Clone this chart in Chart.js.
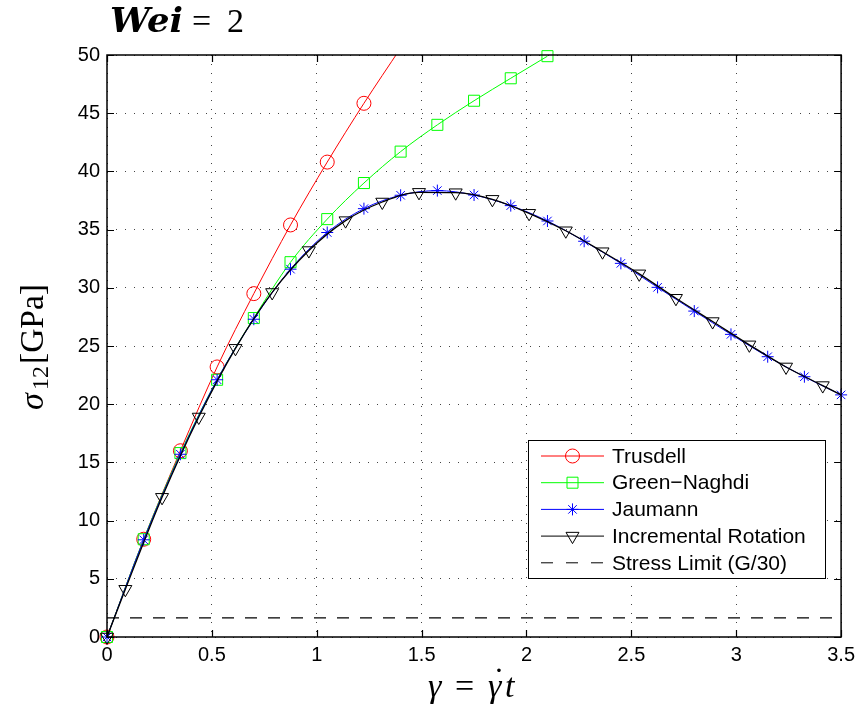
<!DOCTYPE html>
<html lang="en">
  <head>
    <meta charset="UTF-8" />
    <title>Wei = 2</title>
    <script src="https://cdn.jsdelivr.net/npm/chart.js"></script>
    <style>
      body {
        margin: 0;
        background: #fff;
      }
      #wrap {
        width: 861px;
        height: 716px;
      }
    </style>
  </head>
  <body>
    <div id="wrap"><canvas id="stressChart" width="861" height="716"></canvas></div>

    <script>
      // axis ticks
      const xTicks = [0, 0.5, 1, 1.5, 2, 2.5, 3, 3.5];
      const yTicks = [0, 5, 10, 15, 20, 25, 30, 35, 40, 45, 50];

      // Trusdell (last point is the curve leaving the top, no marker)
      const trusdellX = [0, 0.175, 0.35, 0.525, 0.7, 0.875, 1.05, 1.225, 1.4];
      const trusdellY = [0, 8.4, 16.0, 23.2, 29.5, 35.4, 40.8, 45.85, 50.6];

      // Green-Naghdi
      const greenX = [0, 0.175, 0.35, 0.525, 0.7, 0.875, 1.05, 1.225, 1.4, 1.575, 1.75, 1.925, 2.1];
      const greenY = [0, 8.4, 15.8, 22.1, 27.4, 32.2, 35.9, 39.0, 41.7, 44.0, 46.07, 48.0, 49.9];

      // Jaumann
      const jaumannX = [0, 0.175, 0.35, 0.525, 0.7, 0.875, 1.05, 1.225, 1.4, 1.575, 1.75,
        1.925, 2.1, 2.275, 2.45, 2.625, 2.8, 2.975, 3.15, 3.325, 3.5];
      const jaumannY = [0, 8.35, 15.7, 22.1, 27.3, 31.6, 34.75, 36.8, 37.95, 38.35, 37.97,
        37.06, 35.74, 34.0, 32.1, 30.04, 28.0, 26.0, 24.08, 22.36, 20.8];

      // Incremental Rotation (last point is the line end at 3.5, no marker)
      const incrX = [0, 0.0875, 0.2625, 0.4375, 0.6125, 0.7875, 0.9625, 1.1375, 1.3125, 1.4875, 1.6625,
        1.8375, 2.0125, 2.1875, 2.3625, 2.5375, 2.7125, 2.8875, 3.0625, 3.2375, 3.4125, 3.5];
      const incrY = [0, 4.1, 12.0, 18.9, 24.8, 29.6, 33.2, 35.77, 37.37, 38.2, 38.17,
        37.6, 36.4, 34.9, 33.1, 31.2, 29.1, 27.1, 25.1, 23.2, 21.6, 20.8];

      // Stress limit (G/30)
      const limitX = [0, 3.5];
      const limitY = [1.65, 1.65];

      const pts = (xs, ys) => xs.map((x, i) => ({ x: x, y: ys[i] }));
      const noLastMarker = (r) => (ctx) =>
        ctx.dataIndex === ctx.dataset.data.length - 1 ? 0 : r;

      const legendItems = [
        { label: 'Trusdell', color: '#ff0000', marker: 'circle' },
        { label: 'Green\u2212Naghdi', color: '#00ff00', marker: 'rect' },
        { label: 'Jaumann', color: '#0000ff', marker: 'star' },
        { label: 'Incremental Rotation', color: '#000000', marker: 'triangle' },
        { label: 'Stress Limit (G/30)', color: '#000000', marker: 'dash' },
      ];

      function drawMarker(ctx, kind, x, y, color) {
        ctx.save();
        ctx.strokeStyle = color;
        ctx.lineWidth = 1;
        ctx.beginPath();
        if (kind === 'circle') {
          ctx.arc(x, y, 7, 0, Math.PI * 2);
        } else if (kind === 'rect') {
          ctx.rect(x - 5.5, y - 5.5, 11, 11);
        } else if (kind === 'star') {
          const r = 6;
          for (let a = 0; a < 4; a++) {
            const t = (a * Math.PI) / 4;
            ctx.moveTo(x - Math.cos(t) * r, y - Math.sin(t) * r);
            ctx.lineTo(x + Math.cos(t) * r, y + Math.sin(t) * r);
          }
        } else if (kind === 'triangle') {
          const r = 7.5;
          ctx.moveTo(x, y + r);
          ctx.lineTo(x - r * 0.866, y - r / 2);
          ctx.lineTo(x + r * 0.866, y - r / 2);
          ctx.closePath();
        }
        ctx.stroke();
        ctx.restore();
      }

      // draws text so that it fills a given width
      function fitText(ctx, text, x, y, width) {
        const w = ctx.measureText(text).width;
        ctx.save();
        ctx.translate(x, y);
        ctx.scale(width / w, 1);
        ctx.fillText(text, 0, 0);
        ctx.restore();
      }

      const decorPlugin = {
        id: 'decor',
        afterDraw(chart) {
          const ctx = chart.ctx;
          const a = chart.chartArea;
          const xs = chart.scales.x;
          const ys = chart.scales.y;

          // frame and inward ticks
          ctx.save();
          ctx.strokeStyle = '#000';
          ctx.lineWidth = 1.5;
          ctx.strokeRect(a.left, a.top, a.right - a.left, a.bottom - a.top);
          ctx.lineWidth = 1.2;
          ctx.beginPath();
          xTicks.forEach((v) => {
            const px = Math.round(xs.getPixelForValue(v)) + 0.5;
            ctx.moveTo(px, a.bottom);
            ctx.lineTo(px, a.bottom - 7);
            ctx.moveTo(px, a.top);
            ctx.lineTo(px, a.top + 7);
          });
          yTicks.forEach((v) => {
            const py = Math.round(ys.getPixelForValue(v)) + 0.5;
            ctx.moveTo(a.left, py);
            ctx.lineTo(a.left + 7, py);
            ctx.moveTo(a.right, py);
            ctx.lineTo(a.right - 7, py);
          });
          ctx.stroke();
          ctx.restore();

          // legend box
          const bx = 528, by = 440, bw = 297, bh = 138;
          ctx.save();
          ctx.fillStyle = '#fff';
          ctx.fillRect(bx, by, bw, bh);
          ctx.strokeStyle = '#000';
          ctx.lineWidth = 1;
          ctx.strokeRect(bx + 0.5, by + 0.5, bw, bh);
          ctx.font = '21px "Liberation Sans", Arial, sans-serif';
          ctx.textBaseline = 'middle';
          ctx.fillStyle = '#000';
          legendItems.forEach((it, i) => {
            const y = 456 + i * 26.7;
            ctx.save();
            ctx.strokeStyle = it.color;
            ctx.lineWidth = 1;
            if (it.marker === 'dash') ctx.setLineDash([12, 13]);
            ctx.beginPath();
            ctx.moveTo(541, y);
            ctx.lineTo(604, y);
            ctx.stroke();
            ctx.restore();
            if (it.marker !== 'dash') drawMarker(ctx, it.marker, 572.5, y, it.color);
            ctx.fillText(it.label, 612, y + 1);
          });
          ctx.restore();

          // title: Wei = 2
          ctx.save();
          ctx.fillStyle = '#000';
          ctx.textBaseline = 'alphabetic';
          ctx.font = 'bold italic 33px "DejaVu Serif", serif';
          fitText(ctx, 'Wei', 110, 32, 73);
          ctx.font = '34px "Liberation Serif", serif';
          ctx.fillText('=', 192, 32);
          ctx.fillText('2', 227, 32);
          ctx.restore();

          // y axis title: sigma_12 [GPa], written bottom to top
          ctx.save();
          ctx.translate(43, 410);
          ctx.rotate(-Math.PI / 2);
          ctx.fillStyle = '#000';
          ctx.textBaseline = 'alphabetic';
          ctx.font = 'italic 34px "Liberation Serif", serif';
          ctx.fillText('\u03c3', 0, 0);
          ctx.font = '23px "Liberation Serif", serif';
          fitText(ctx, '12', 20, 5, 24);
          ctx.font = '33px "Liberation Serif", serif';
          fitText(ctx, '[GPa]', 46, 0, 80);
          ctx.restore();

          // x axis title: gamma = gamma-dot t
          ctx.save();
          ctx.fillStyle = '#000';
          ctx.textBaseline = 'alphabetic';
          const base = 697;
          ctx.font = 'italic 34px "Liberation Serif", serif';
          ctx.fillText('\u03b3', 428, base);
          ctx.font = '34px "Liberation Serif", serif';
          ctx.fillText('=', 455, base);
          ctx.font = 'italic 34px "Liberation Serif", serif';
          ctx.fillText('\u03b3', 488, base);
          ctx.fillText('t', 505, base);
          ctx.font = '34px "Liberation Serif", serif';
          ctx.textAlign = 'center';
          ctx.fillText('\u02d9', 499, base - 6);
          ctx.restore();
        },
      };

      const tickFont = { family: '"Liberation Sans", Arial, sans-serif', size: 20 };

      new Chart(document.getElementById('stressChart'), {
        type: 'line',
        data: {
          datasets: [
            {
              label: 'Trusdell',
              data: pts(trusdellX, trusdellY),
              borderColor: '#ff0000',
              borderWidth: 1,
              cubicInterpolationMode: 'monotone',
              pointStyle: 'circle',
              pointRadius: noLastMarker(7),
              pointBorderColor: '#ff0000',
              pointBackgroundColor: 'rgba(0,0,0,0)',
              pointBorderWidth: 1,
              clip: { left: 12, bottom: 12, top: 0, right: 0 },
              order: 5,
            },
            {
              label: 'Green-Naghdi',
              data: pts(greenX, greenY),
              borderColor: '#00ff00',
              borderWidth: 1,
              cubicInterpolationMode: 'monotone',
              pointStyle: 'rect',
              pointRadius: 7.8,
              pointBorderColor: '#00ff00',
              pointBackgroundColor: 'rgba(0,0,0,0)',
              pointBorderWidth: 1,
              clip: false,
              order: 4,
            },
            {
              label: 'Jaumann',
              data: pts(jaumannX, jaumannY),
              borderColor: '#0000ff',
              borderWidth: 1,
              cubicInterpolationMode: 'monotone',
              pointStyle: 'star',
              pointRadius: 6,
              pointBorderColor: '#0000ff',
              pointBackgroundColor: 'rgba(0,0,0,0)',
              pointBorderWidth: 1,
              clip: false,
              order: 3,
            },
            {
              label: 'Incremental Rotation',
              data: pts(incrX, incrY),
              borderColor: '#000000',
              borderWidth: 1.3,
              cubicInterpolationMode: 'monotone',
              pointStyle: 'triangle',
              pointRotation: 180,
              pointRadius: noLastMarker(7.5),
              pointBorderColor: '#000000',
              pointBackgroundColor: 'rgba(0,0,0,0)',
              pointBorderWidth: 1,
              clip: false,
              order: 2,
            },
            {
              label: 'Stress Limit (G/30)',
              data: pts(limitX, limitY),
              borderColor: '#000000',
              borderWidth: 1.2,
              borderDash: [12, 11],
              pointRadius: 0,
              order: 1,
            },
          ],
        },
        options: {
          responsive: false,
          animation: false,
          devicePixelRatio: 1,
          layout: { padding: { top: 55, right: 16, left: 0, bottom: 0 } },
          plugins: {
            legend: { display: false },
            tooltip: { enabled: false },
          },
          scales: {
            x: {
              type: 'linear',
              min: 0,
              max: 3.5,
              afterBuildTicks: (s) => {
                s.ticks = xTicks.map((v) => ({ value: v }));
              },
              afterFit: (s) => {
                s.height = 79;
              },
              ticks: {
                color: '#000',
                font: tickFont,
                padding: 6,
                maxRotation: 0,
                autoSkip: false,
                callback: (v) => String(v),
              },
              grid: { color: '#444', lineWidth: 1, drawTicks: false },
              border: { display: false, dash: [1, 8] },
            },
            y: {
              type: 'linear',
              min: 0,
              max: 50,
              afterBuildTicks: (s) => {
                s.ticks = yTicks.map((v) => ({ value: v }));
              },
              afterFit: (s) => {
                s.width = 107;
              },
              ticks: {
                color: '#000',
                font: tickFont,
                padding: 7,
                autoSkip: false,
                callback: (v) => String(v),
              },
              grid: { color: '#444', lineWidth: 1, drawTicks: false },
              border: { display: false, dash: [1, 8] },
            },
          },
        },
        plugins: [decorPlugin],
      });
    </script>
  </body>
</html>
